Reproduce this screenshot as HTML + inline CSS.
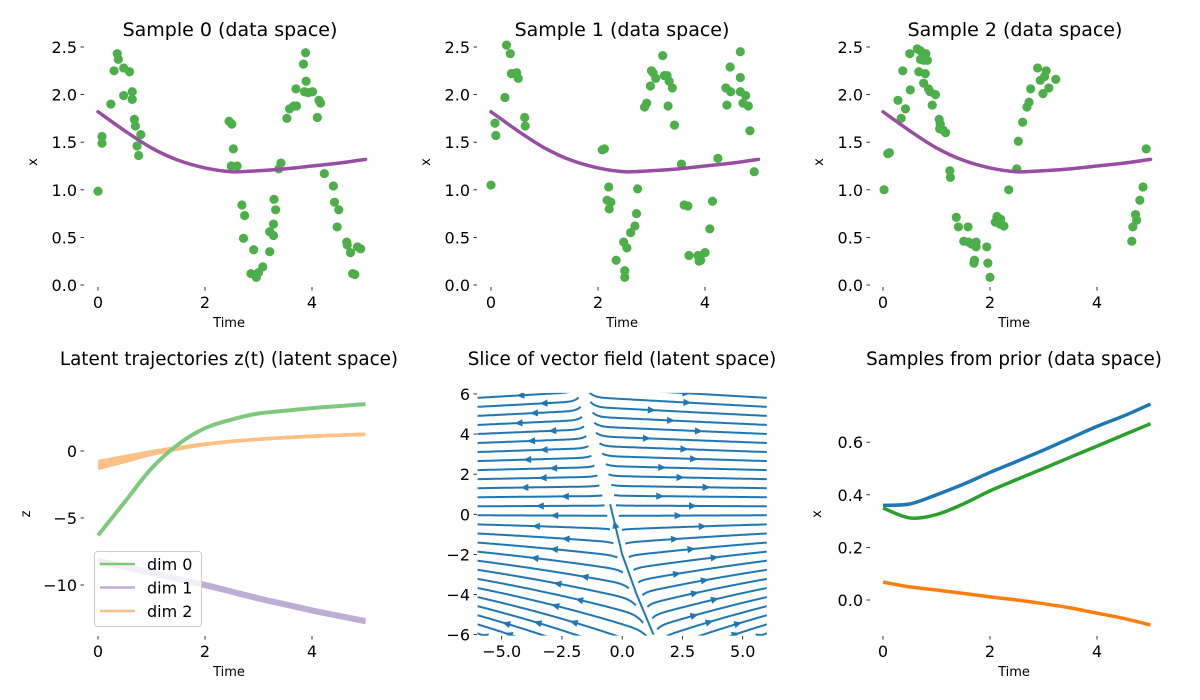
<!DOCTYPE html>
<html><head><meta charset="utf-8"><style>
html,body{margin:0;padding:0;background:#fff;}
svg{display:block;font-family:"DejaVu Sans","Liberation Sans",sans-serif;}
</style></head><body>
<svg id="fig" width="1200" height="700" viewBox="0 0 1200 700">
<rect width="1200" height="700" fill="#fff"/>
<text x="230" y="36" font-size="19" text-anchor="middle">Sample 0 (data space)</text>
<text x="622" y="36" font-size="19" text-anchor="middle">Sample 1 (data space)</text>
<text x="1015" y="36" font-size="19" text-anchor="middle">Sample 2 (data space)</text>
<text x="229" y="365" font-size="18.3" text-anchor="middle">Latent trajectories z(t) (latent space)</text>
<text x="622" y="365" font-size="18.3" text-anchor="middle">Slice of vector field (latent space)</text>
<text x="1014" y="365" font-size="18.3" text-anchor="middle">Samples from prior (data space)</text>
</svg>
<script>
const NS="http://www.w3.org/2000/svg";
const svg=document.getElementById('fig');

// ---------- data ----------
const fitT=[0,0.5,1,1.5,2,2.5,3,3.5,4,4.5,5];
const fitX=[1.82,1.62,1.44,1.31,1.23,1.19,1.20,1.22,1.25,1.28,1.32];
const s0T=[0,0.075,0.075,0.24,0.36,0.38,0.30,0.48,0.59,0.48,0.64,0.64,0.68,0.70,0.80,0.73,0.76,2.45,2.50,2.53,2.49,2.60,2.69,2.74,2.72,2.91,2.86,2.96,3.0,3.08,3.21,3.21,3.28,3.28,3.32,3.29,3.38,3.42,3.53,3.58,3.66,3.71,3.70,3.84,3.88,3.89,3.86,3.93,4.01,4.13,4.16,4.10,4.23,4.40,4.42,4.50,4.47,4.65,4.66,4.72,4.85,4.91,4.76,4.80];
const s0X=[0.985,1.56,1.49,1.90,2.43,2.37,2.25,2.28,2.24,1.99,2.03,1.95,1.74,1.67,1.58,1.46,1.36,1.72,1.69,1.43,1.25,1.25,0.84,0.73,0.49,0.37,0.12,0.08,0.13,0.19,0.35,0.56,0.64,0.52,0.79,0.90,1.22,1.28,1.75,1.85,1.88,1.88,2.06,2.32,2.44,2.14,2.03,2.02,2.03,1.94,1.91,1.76,1.17,1.04,0.87,0.79,0.61,0.45,0.42,0.34,0.40,0.38,0.12,0.11];
const s1T=[0,0.075,0.09,0.29,0.36,0.26,0.38,0.44,0.48,0.51,0.63,0.64,2.08,2.12,2.2,2.17,2.24,2.21,2.74,2.72,2.69,2.61,2.48,2.54,2.34,2.5,2.5,2.87,2.91,2.98,3.0,3.03,3.08,3.21,3.24,3.29,3.33,3.39,3.31,3.43,3.56,3.61,3.68,3.70,3.87,3.92,4.0,3.89,4.14,4.09,4.24,4.41,4.39,4.48,4.47,4.66,4.66,4.66,4.76,4.71,4.81,4.84,4.92];
const s1X=[1.05,1.70,1.57,2.52,2.43,1.97,2.22,2.22,2.23,2.17,1.76,1.67,1.42,1.43,1.03,0.89,0.87,0.80,1.01,0.75,0.62,0.55,0.45,0.39,0.26,0.15,0.08,1.87,1.91,2.09,2.25,2.23,2.17,2.41,2.2,2.2,2.14,2.07,1.88,1.68,1.27,0.84,0.83,0.31,0.31,0.26,0.34,0.25,0.88,0.59,1.33,1.89,2.07,2.03,2.29,2.45,2.18,2.03,1.99,1.91,1.88,1.62,1.19];
const s2T=[0.02,0.09,0.12,0.34,0.42,0.28,0.37,0.51,0.50,0.64,0.70,0.75,0.80,0.70,0.76,0.83,0.67,0.79,0.76,0.85,0.88,0.98,0.92,1.05,1.07,1.06,1.12,1.17,1.25,1.26,1.37,1.41,1.59,1.51,1.60,1.66,1.74,1.74,1.71,1.70,1.94,1.96,2.0,2.1,2.13,2.2,2.26,2.19,2.35,2.50,2.53,2.61,2.69,2.73,2.76,2.89,2.94,3.02,3.05,2.99,3.10,3.23,4.65,4.67,4.72,4.74,4.80,4.86,4.92];
const s2X=[1.0,1.38,1.39,1.75,1.85,1.94,2.25,2.05,2.43,2.48,2.46,2.42,2.43,2.37,2.36,2.36,2.24,2.22,2.12,2.06,2.03,2.0,1.89,1.74,1.69,1.64,1.63,1.60,1.20,1.13,0.71,0.61,0.61,0.46,0.45,0.43,0.45,0.40,0.26,0.23,0.40,0.23,0.08,0.66,0.72,0.69,0.62,0.64,1.0,1.22,1.51,1.71,1.87,1.92,2.06,2.28,2.15,2.19,2.25,2.01,2.07,2.16,0.46,0.61,0.74,0.68,0.89,1.03,1.43];

const latT=[0,0.5,1,1.5,2,2.5,3,3.5,4,4.5,5];
const dim0=[-6.3,-3.8,-1.3,0.5,1.7,2.35,2.8,3.0,3.2,3.35,3.5];
const dim1=[-8.2,-8.65,-9.1,-9.55,-10.0,-10.5,-11.0,-11.45,-11.9,-12.3,-12.7];
const dim2=[-1.05,-0.6,-0.15,0.2,0.5,0.72,0.88,1.0,1.1,1.18,1.25];
const dim2Spread=[0.25,0.18,0.1,0.05,0.02,0,0,0,0,0,0];

const priorT=[0,0.5,1,1.5,2,2.5,3,3.5,4,4.5,5];
const priorBlue=[0.36,0.365,0.40,0.44,0.485,0.527,0.57,0.615,0.66,0.70,0.745];
const priorGreen=[0.35,0.312,0.325,0.365,0.415,0.458,0.50,0.543,0.585,0.628,0.67];
const priorOrange=[0.068,0.05,0.038,0.025,0.012,0.0,-0.014,-0.03,-0.05,-0.07,-0.095];

const sepY=[-6,-4,-2,0,2,4,6];
const sepX=[1.3,0.6,0.0,-0.4,-0.8,-1.3,-1.6];
const slopeY=[-6,-3,0,3,6];
const slopeK=[0.4,0.2,0,-0.04,-0.07];
const edgeYs=[-5.9,-5.45,-5.0,-4.55,-4.1,-3.65,-3.2,-2.75,-2.3,-1.85,-1.4,-0.95,-0.5,-0.05,0.4,0.85,1.3,1.75,2.2,2.65,3.1,3.55,4.0,4.45,4.9,5.35,5.8];
const arrowFrac=[0.5,0.3,0.6,0.45,0.35,0.55,0.4,0.5,0.3,0.6,0.45,0.35,0.55,0.4,0.5,0.3,0.6,0.45,0.35,0.55,0.4,0.5,0.3,0.6,0.45,0.35,0.55];

const xTicksTime=[0,2,4];
const yTicksTop=[0,0.5,1,1.5,2,2.5];
const yTickLabelsTop=["0.0","0.5","1.0","1.5","2.0","2.5"];
const yTicksLat=[0,-5,-10];
const yTickLabelsLat=["0","\u22125","\u221210"];
const xTicksVF=[-5,-2.5,0,2.5,5];
const xTickLabelsVF=["\u22125.0","\u22122.5","0.0","2.5","5.0"];
const yTicksVF=[6,4,2,0,-2,-4,-6];
const yTickLabelsVF=["6","4","2","0","\u22122","\u22124","\u22126"];
const yTicksPrior=[0.6,0.4,0.2,0.0];
const yTickLabelsPrior=["0.6","0.4","0.2","0.0"];

// ---------- helpers ----------
function mk(tag,attrs,parent){const e=document.createElementNS(NS,tag);for(const k in attrs)e.setAttribute(k,attrs[k]);(parent||svg).appendChild(e);return e;}
function smooth(pts){let d='M'+pts[0][0].toFixed(2)+','+pts[0][1].toFixed(2);for(let i=0;i<pts.length-1;i++){const p0=pts[Math.max(0,i-1)],p1=pts[i],p2=pts[i+1],p3=pts[Math.min(pts.length-1,i+2)];const c1=[p1[0]+(p2[0]-p0[0])/6,p1[1]+(p2[1]-p0[1])/6],c2=[p2[0]-(p3[0]-p1[0])/6,p2[1]-(p3[1]-p1[1])/6];d+='C'+c1[0].toFixed(2)+','+c1[1].toFixed(2)+' '+c2[0].toFixed(2)+','+c2[1].toFixed(2)+' '+p2[0].toFixed(2)+','+p2[1].toFixed(2);}return d;}
function interp(xs,ys,x){if(x<=xs[0])return ys[0];for(let i=1;i<xs.length;i++){if(x<=xs[i]){const f=(x-xs[i-1])/(xs[i]-xs[i-1]);return ys[i-1]+f*(ys[i]-ys[i-1]);}}return ys[ys.length-1];}

function xTicks(xf,vals,labels,yAxis){vals.forEach((v,i)=>{const x=xf(v);
 const m=mk('line',{x1:x,x2:x,y1:yAxis,y2:yAxis+3.5,stroke:'#000','stroke-width':0.8});
 
 
 const t=mk('text',{x:x,y:yAxis+21,'font-size':16,'text-anchor':'middle'});t.textContent=labels[i];
 
 });}
function yTicks(yf,vals,labels,xAxis){vals.forEach((v,i)=>{const y=yf(v);
 const m=mk('line',{x1:xAxis-3.5,x2:xAxis,y1:y,y2:y,stroke:'#000','stroke-width':0.8});
 
 
 const t=mk('text',{x:xAxis-7,y:y+6,'font-size':16,'text-anchor':'end'});t.textContent=labels[i];
 
 });}
function label(txt,x,y,rot,name){const t=mk('text',{x:x,y:y,'font-size':13,'text-anchor':'middle'});if(rot)t.setAttribute('transform','rotate(-90 '+x+' '+y+')');t.textContent=txt;
 
 }

// ---------- top row ----------
const topPanels=[{x0:98,left:84,T:s0T,X:s0X},{x0:491,left:477,T:s1T,X:s1X},{x0:883,left:870,T:s2T,X:s2X}];
const yTop=v=>285-v*95.2;
topPanels.forEach((p,k)=>{
 const xf=t=>p.x0+t*53.5;
 const g=mk('g',{});
 
 
 p.T.forEach((t,i)=>{const c=mk('circle',{cx:xf(t),cy:yTop(p.X[i]),r:4.6,fill:'#4daf4a'},g);
  
  });
 const l=mk('path',{d:smooth(fitT.map((t,i)=>[xf(t),yTop(fitX[i])])),fill:'none',stroke:'#984ea3','stroke-width':3.5,'stroke-linecap':'round'},g);
 
 
 xTicks(xf,xTicksTime,xTicksTime.map(String),287);
 yTicks(yTop,yTicksTop,yTickLabelsTop,p.left);
 label('Time',xf(2.45),327,false,'x-axis-title');
 label('x',p.left-47,162,true,'y-axis-title');
});

// ---------- latent trajectories ----------
const xLat=t=>98+t*53.5, yLat=v=>451-v*13.4;
const gl=mk('g',{});


[-1,0,1].forEach(o=>{
 const p=mk('path',{d:smooth(latT.map((t,i)=>[xLat(t),yLat(dim1[i]+o*0.12)])),fill:'none',stroke:'#beaed4','stroke-width':3},gl);
 
 });
[-1,0,1].forEach(o=>{
 const p=mk('path',{d:smooth(latT.map((t,i)=>[xLat(t),yLat(dim2[i]+o*dim2Spread[i])])),fill:'none',stroke:'#fdc086','stroke-width':3.5},gl);
 
 });
{const p=mk('path',{d:smooth(latT.map((t,i)=>[xLat(t),yLat(dim0[i])])),fill:'none',stroke:'#7fc97f','stroke-width':4},gl);
 
 }
xTicks(xLat,xTicksTime,xTicksTime.map(String),636);
yTicks(yLat,yTicksLat,yTickLabelsLat,84);
label('Time',229,676,false,'x-axis-title');
label('z',30,514,true,'y-axis-title');
const lg=mk('g',{});


{const r=mk('rect',{x:94.5,y:551.5,width:107,height:75,rx:3,fill:'#fff','fill-opacity':0.8,stroke:'#ccc'},lg);
 
 }
[['dim 0','#7fc97f'],['dim 1','#beaed4'],['dim 2','#fdc086']].forEach((e,i)=>{const y=564+i*23.5;
 const l=mk('line',{x1:100,x2:135,y1:y,y2:y,stroke:e[1],'stroke-width':2.5},lg);
 
 
 const t=mk('text',{x:147,y:y+6,'font-size':16},lg);t.textContent=e[0];
 
 });

// ---------- vector field ----------
const xVF=v=>622.2+v*24.1, yVF=v=>514.3-v*20.06;
const cp=mk('clipPath',{id:'vfclip'});mk('rect',{x:xVF(-6),y:yVF(6.05),width:xVF(6)-xVF(-6),height:yVF(-6.05)-yVF(6.05)},cp);
const gv=mk('g',{'clip-path':'url(#vfclip)'});


function field(x,y){const c=interp(sepY,sepX,y);const d=x-c;const s=interp(slopeY,slopeK,y);
 let u=Math.tanh(d*2),v=s*Math.abs(Math.tanh(d*2))-0.12*y*Math.exp(-d*d/0.25);const n=Math.hypot(u,v)||1;return [u/n,v/n];}
function arrow(p,q,parent){const a=Math.atan2(q[1]-p[1],q[0]-p[0]);const L=8,W=3.6;
 const pts=[[q[0]+Math.cos(a)*L/2,q[1]+Math.sin(a)*L/2],[q[0]-Math.cos(a)*L/2-Math.sin(a)*W,q[1]-Math.sin(a)*L/2+Math.cos(a)*W],[q[0]-Math.cos(a)*L/2+Math.sin(a)*W,q[1]-Math.sin(a)*L/2-Math.cos(a)*W]];
 const t=mk('polygon',{points:pts.map(z=>z.join(',')).join(' '),fill:'#1f77b4'},parent);
 
 }
function streamFromEdge(x,y,frac,parent){const pts=[[xVF(x),yVF(y)]];
 for(let i=0;i<800;i++){const f=field(x,y);x-=f[0]*0.04;y-=f[1]*0.04;
  const c=interp(sepY,sepX,y);if(Math.abs(x-c)<0.22||x<-6.2||x>6.2||y<-6.2||y>6.2)break;pts.push([xVF(x),yVF(y)]);}
 pts.reverse();
 if(pts.length<4)return;
 const p=mk('polyline',{points:pts.map(z=>z[0].toFixed(1)+','+z[1].toFixed(1)).join(' '),fill:'none',stroke:'#1f77b4','stroke-width':2},parent);
 
 
 const m=Math.max(1,Math.floor(pts.length*frac));arrow(pts[m-1],pts[m],parent);}
edgeYs.forEach((y,i)=>{streamFromEdge(-6.1,y,arrowFrac[i],gv);streamFromEdge(6.1,y,arrowFrac[(i+7)%arrowFrac.length],gv);});
{const pts=[];for(let k=0;k<=26;k++){const y=-6+k*0.25;pts.push([xVF(interp(sepY,sepX,y)),yVF(y)]);}
 const p=mk('path',{d:smooth(pts),fill:'none',stroke:'#1f77b4','stroke-width':2},gv);
 
 
 arrow(pts[21],pts[22],gv);}
xTicks(xVF,xTicksVF,xTickLabelsVF,636);
yTicks(yVF,yTicksVF,yTickLabelsVF,477);

// ---------- prior samples ----------
const xPr=t=>883+t*53.5, yPr=v=>600-v*263;
const gp=mk('g',{});


[[priorBlue,'#1f77b4','prior-sample-blue'],[priorGreen,'#2ca02c','prior-sample-green'],[priorOrange,'#ff7f0e','prior-sample-orange']].forEach(s=>{
 const p=mk('path',{d:smooth(priorT.map((t,i)=>[xPr(t),yPr(s[0][i])])),fill:'none',stroke:s[1],'stroke-width':3.5},gp);
 
 });
xTicks(xPr,xTicksTime,xTicksTime.map(String),636);
yTicks(yPr,yTicksPrior,yTickLabelsPrior,870);
label('Time',1014,676,false,'x-axis-title');
label('x',821,514,true,'y-axis-title');
</script>
</body></html>
